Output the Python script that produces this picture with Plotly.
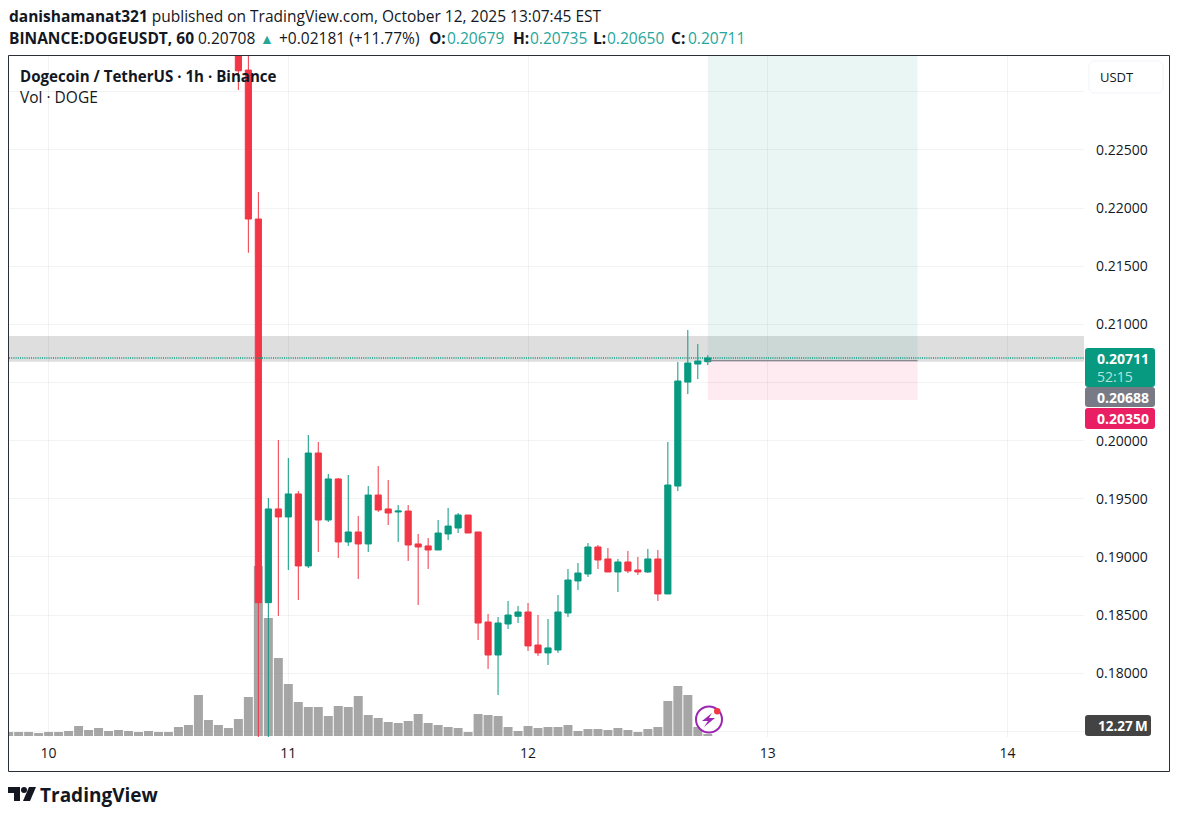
"""
DOGEUSDT 1h snapshot with volume, long position box and price labels
"""
import pandas as pd
import plotly.graph_objects as go

FONT = "Open Sans"
GREEN = "#089981"
RED = "#F23645"
TEAL = "#26a69a"
INK = "#131722"
GRID = "rgba(42,46,57,0.06)"

candle_opens = [.2420, .23187, .21906, .18607, .19413, .19344, .19542, .18923, .19894, .19318, .19671, .19129,
                .19215, .19112, .19533, .19413, .19387, .19395, .19112, .19095, .1906, .19198, .19249, .19361,
                .19215, .18441, .18157, .18424, .1849, .18527, .18243, .18175, .182, .18518, .18794, .18854,
                .19086, .18983, .18871, .18957, .18888, .18871, .18983, .18682, .1961, .20504, .20659, .20679]
candle_highs = [.2450, .2400, .22138, .19507, .20006, .19851, .19567, .20049, .19989, .19714, .19679, .19705,
                .19352, .1961, .19782, .19662, .19447, .19447, .19198, .19163, .19318, .19421, .19378, .19361,
                .19215, .1851, .18484, .18622, .18579, .18604, .18501, .18467, .18673, .18897, .18948, .1912,
                .19103, .19077, .18983, .19052, .19, .19069, .1906, .19989, .20676, .20952, .20831, .20735]
candle_lows = [.23015, .21616, .1740, .1740, .18493, .18888, .1863, .18905, .19043, .19301, .18991, .19095,
               .18811, .19043, .19387, .19275, .19129, .18966, .18587, .18897, .1906, .19146, .19206, .19206,
               .18286, .18037, .17813, .18381, .18432, .18192, .18149, .18071, .18175, .18484, .18716, .18828,
               .18897, .18871, .18699, .18862, .18845, .18862, .18622, .18682, .19567, .20401, .2053, .2065]
candle_closes = [.23181, .21906, .18607, .19413, .19344, .19542, .18923, .19894, .19318, .19671, .19129, .19215,
                 .19112, .19533, .19404, .19378, .19395, .19103, .19086, .1906, .19206, .19266, .19361, .19206,
                 .18432, .18157, .18432, .18501, .18527, .18235, .18175, .18218, .18527, .18802, .18862, .19086,
                 .18974, .18871, .18957, .1888, .18871, .18983, .18682, .19619, .20513, .20668, .20685, .20711]

# millions of DOGE, the first bars are cut by the left edge
volumes = [24, 24, 24, 18, 24, 24, 30, 60, 36, 48, 30, 36, 30, 24, 30, 24, 24, 54, 66, 246, 96, 66, 48, 102, 234,
           1020, 708, 468, 312, 204, 174, 174, 120, 180, 174, 240, 126, 108, 84, 78, 90, 132, 78, 66, 54, 48, 24,
           132, 126, 120, 54, 30, 60, 48, 54, 54, 66, 30, 42, 42, 36, 48, 36, 24, 42, 54, 210, 300, 246, 54, 12.27]

price_ticks = [.175, .18, .185, .19, .195, .20, .205, .21, .215, .22, .225, .23]
price_labels = ["", "0.18000", "0.18500", "0.19000", "0.19500", "0.20000", "", "0.21000", "0.21500", "0.22000",
                "0.22500", ""]
day_ticks = ["2025-10-10", "2025-10-11", "2025-10-12", "2025-10-13", "2025-10-14"]
day_labels = ["10", "11", "12", "13", "14"]

band_low, band_high = 0.20679, 0.2090
entry, stop, target = 0.20688, 0.20350, 0.2400
last_close = 0.20711
position_start, position_end = "2025-10-12 18:00", "2025-10-13 15:00"

# pane edges in page pixels
W, H = 1178, 818
LEFT, RIGHT, TOP, BOTTOM = 9, 1084, 56, 737


def px(x):
    return (x - LEFT) / (RIGHT - LEFT)


def py(y):
    return (BOTTOM - y) / (BOTTOM - TOP)


def pt(x, y):
    return f"{px(x)} {py(y)}"


def rounded(x0, y0, x1, y1, fill="rgba(0,0,0,0)", line=None, r=3):
    path = (f"M {pt(x0 + r, y0)} L {pt(x1 - r, y0)} Q {pt(x1, y0)} {pt(x1, y0 + r)} "
            f"L {pt(x1, y1 - r)} Q {pt(x1, y1)} {pt(x1 - r, y1)} L {pt(x0 + r, y1)} "
            f"Q {pt(x0, y1)} {pt(x0, y1 - r)} L {pt(x0, y0 + r)} Q {pt(x0, y0)} {pt(x0 + r, y0)} Z")
    return dict(type="path", xref="paper", yref="paper", path=path, fillcolor=fill,
                line=dict(color=line or "rgba(0,0,0,0)", width=1))


def text(x, y, s, size=14, color=INK, anchor="left"):
    return dict(xref="paper", yref="paper", x=px(x), y=py(y), text=s, showarrow=False, xanchor=anchor,
                yanchor="middle", borderpad=0, font=dict(family=FONT, size=size, color=color))


volume_times = pd.date_range("2025-10-09 20:00", periods=len(volumes), freq="h")
candle_times = pd.date_range("2025-10-10 19:00", periods=len(candle_opens), freq="h")

fig = go.Figure()
fig.add_trace(go.Bar(x=volume_times, y=volumes, marker=dict(color="rgba(128,128,128,0.7)", line_width=0),
                     yaxis="y"))
fig.add_trace(go.Candlestick(x=candle_times, open=candle_opens, high=candle_highs, low=candle_lows,
                             close=candle_closes, yaxis="y2", whiskerwidth=0,
                             increasing=dict(line=dict(color=GREEN, width=1), fillcolor=GREEN),
                             decreasing=dict(line=dict(color=RED, width=1), fillcolor=RED)))

shapes = [
    dict(type="rect", xref="paper", yref="y2", x0=0, x1=1, y0=band_low, y1=band_high, layer="below",
         fillcolor="rgba(128,128,128,0.26)", line_width=0),
    dict(type="rect", xref="x", yref="y2", x0=position_start, x1=position_end, y0=entry, y1=target, layer="below",
         fillcolor="rgba(8,153,129,0.09)", line_width=0),
    dict(type="rect", xref="x", yref="y2", x0=position_start, x1=position_end, y0=stop, y1=entry, layer="below",
         fillcolor="rgba(233,30,99,0.09)", line_width=0),
    dict(type="line", xref="x", yref="y2", x0=position_start, x1=position_end, y0=entry, y1=entry,
         line=dict(color="#787b86", width=1)),
    dict(type="line", xref="paper", yref="y2", x0=0, x1=1, y0=last_close, y1=last_close,
         line=dict(color=GREEN, width=1.5, dash="1px,1.2px")),
    # outer frame and currency button
    dict(type="rect", xref="paper", yref="paper", x0=px(8.5), x1=px(1169.5), y0=py(55.5), y1=py(771.5),
         line=dict(color="#2a2e39", width=1)),
    rounded(1089, 61, 1163, 93, line="#f0f3fa", r=6),
    # last price, position and volume tags
    rounded(1085, 348, 1155, 387, fill=GREEN),
    rounded(1085, 387, 1155, 407, fill="#787b86"),
    rounded(1085, 408, 1155, 429, fill="#e91e63"),
    rounded(1085, 715, 1151, 736, fill="#434343"),
    # replay badge
    dict(type="circle", xref="paper", yref="paper", x0=px(696), x1=px(722), y0=py(706.5), y1=py(732.5),
         fillcolor="white", line=dict(color="#9c27b0", width=2)),
    dict(type="circle", xref="paper", yref="paper", x0=px(714), x1=px(720.5), y0=py(708), y1=py(714.5),
         fillcolor=RED, line_width=0),
    dict(type="path", xref="paper", yref="paper", fillcolor="#9c27b0", line_width=0,
         path=f"M {pt(712, 713)} L {pt(702, 721)} L {pt(708, 721)} L {pt(704, 727)} "
              f"L {pt(715, 718)} L {pt(709, 718)} Z"),
    # TradingView mark
    dict(type="path", xref="paper", yref="paper", fillcolor=INK, line_width=0,
         path=f"M {pt(8, 787)} L {pt(20, 787)} L {pt(20, 801)} L {pt(14, 801)} L {pt(14, 793)} L {pt(8, 793)} Z"),
    dict(type="circle", xref="paper", yref="paper", x0=px(21), x1=px(27), y0=py(787), y1=py(793),
         fillcolor=INK, line_width=0),
    dict(type="path", xref="paper", yref="paper", fillcolor=INK, line_width=0,
         path=f"M {pt(29, 787)} L {pt(36, 787)} L {pt(30, 801)} L {pt(23, 801)} Z"),
]

HEAD = 15.5
annotations = [
    text(8, 16, "<b>danishamanat321</b> published on TradingView.com, October 12, 2025 13:07:45 EST", size=HEAD),
    text(8, 38, "<b>BINANCE:DOGEUSDT, 60</b>", size=HEAD),
    text(197, 38, "0.20708", size=HEAD),
    text(267, 38, "▲", size=14, color=TEAL, anchor="center"),
    text(278, 38, "+0.02181 (+11.77%)", size=HEAD),
    text(428, 38, "<b>O:</b>", size=HEAD),
    text(446, 38, "0.20679", size=HEAD, color=TEAL),
    text(512, 38, "<b>H:</b>", size=HEAD),
    text(529, 38, "0.20735", size=HEAD, color=TEAL),
    text(592, 38, "<b>L:</b>", size=HEAD),
    text(606, 38, "0.20650", size=HEAD, color=TEAL),
    text(670, 38, "<b>C:</b>", size=HEAD),
    text(687, 38, "0.20711", size=HEAD, color=TEAL),
    text(19, 76, "<b>Dogecoin / TetherUS · 1h · Binance</b>", size=15.1),
    text(19, 97, "Vol · DOGE", size=15.5),
    text(1117, 77, "USDT", size=13, anchor="center"),
    text(1096, 358, "<b>0.20711</b>", color="white"),
    text(1096, 376, "52:15", color="#b5e3d9"),
    text(1096, 397, "<b>0.20688</b>", color="white"),
    text(1096, 418, "<b>0.20350</b>", color="white"),
    text(1097, 726, "<b>12.27\u2009M</b>", size=13.5, color="white"),
    text(39, 795, "<b>TradingView</b>", size=19),
]

fig.update_layout(
    width=W, height=H, margin=dict(l=LEFT, r=W - RIGHT, t=TOP, b=H - BOTTOM),
    paper_bgcolor="white", plot_bgcolor="white", showlegend=False, bargap=0.1,
    boxgap=0.12, shapes=shapes, annotations=annotations, font=dict(family=FONT, color=INK),
    xaxis=dict(type="date", range=["2025-10-09 20:02", "2025-10-14 07:40"], rangeslider_visible=False,
               tickmode="array", tickvals=day_ticks, ticktext=day_labels, tickfont=dict(size=14),
               ticklabelstandoff=6, showgrid=True, gridcolor=GRID, gridwidth=1, ticks="", showline=False,
               zeroline=False),
    yaxis=dict(range=[-6, 4080], visible=False, fixedrange=True),
    yaxis2=dict(overlaying="y", side="right", range=[0.17452, 0.23308], tickmode="array", tickvals=price_ticks,
                ticktext=price_labels, tickfont=dict(size=14), ticklabelstandoff=11, showgrid=True,
                gridcolor=GRID, gridwidth=1, ticks="", showline=False, zeroline=False),
)

fig.write_html("out.html", post_script="document.body.style.margin = '0';", config=dict(displayModeBar=False))
